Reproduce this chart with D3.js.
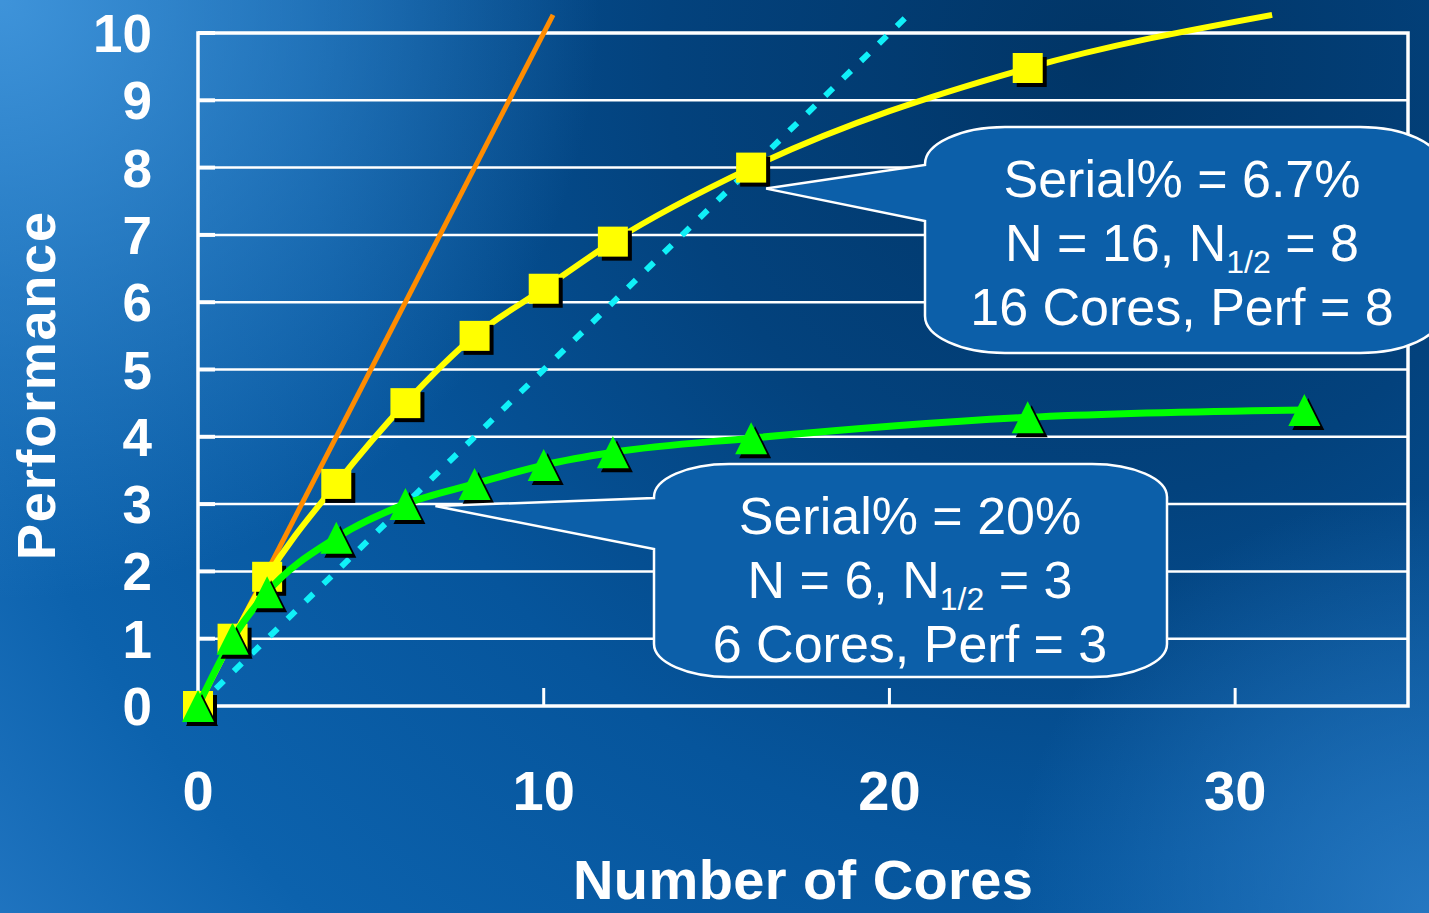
<!DOCTYPE html>
<html>
<head>
<meta charset="utf-8">
<script src="https://cdn.jsdelivr.net/npm/d3@7"></script>
<style>
  body { margin: 0; background: #0a4a8a; }
  svg { display: block; }
  text { font-family: "Liberation Sans", Arial, sans-serif; fill: #fff; }
</style>
</head>
<body>
<div id="chart"></div>
<script>
// chart data
const coreTicks = [0, 10, 20, 30];
const perfTicks = [0, 1, 2, 3, 4, 5, 6, 7, 8, 9, 10];

// ideal (perf = cores) and half-efficiency reference lines
const idealCores = [0, 10.27];
const idealPerf = [0, 10.27];
const halfCores = [0, 20.55];
const halfPerf = [0, 10.27];

// serial 6.7%
const s67Cores = [0, 1, 2, 4, 6, 8, 10, 12, 16, 24];
const s67Perf = [0, 1.0, 1.92, 3.3, 4.5, 5.5, 6.2, 6.9, 8.0, 9.48];
const s67TailCore = 31.07, s67TailPerf = 10.27;

// serial 20%
const s20Cores = [0, 1, 2, 4, 6, 8, 10, 12, 16, 24, 32];
const s20Perf = [0, 1.0, 1.69, 2.5, 3.0, 3.3, 3.58, 3.77, 3.98, 4.29, 4.4];

const W = 1429, H = 913;
const svg = d3.select("#chart").append("svg")
    .attr("width", W).attr("height", H);

//
// background gradients
//
const defs = svg.append("defs");
const bg = defs.append("radialGradient").attr("id", "bg")
    .attr("gradientUnits", "userSpaceOnUse")
    .attr("cx", 1100).attr("cy", 60).attr("r", 1450);
[[0, "#013566"], [0.3, "#03427d"], [0.55, "#06559c"], [0.8, "#0c62ad"], [1, "#2478c4"]]
    .forEach(s => bg.append("stop").attr("offset", s[0]).attr("stop-color", s[1]));

const hiTL = defs.append("radialGradient").attr("id", "hiTL")
    .attr("gradientUnits", "userSpaceOnUse")
    .attr("cx", 0).attr("cy", 0).attr("r", 600);
hiTL.append("stop").attr("offset", 0).attr("stop-color", "#4196dc").attr("stop-opacity", 0.95);
hiTL.append("stop").attr("offset", 1).attr("stop-color", "#4196dc").attr("stop-opacity", 0);

const hiBR = defs.append("radialGradient").attr("id", "hiBR")
    .attr("gradientUnits", "userSpaceOnUse")
    .attr("cx", W).attr("cy", H).attr("r", 420);
hiBR.append("stop").attr("offset", 0).attr("stop-color", "#2a7cc6").attr("stop-opacity", 0.85);
hiBR.append("stop").attr("offset", 1).attr("stop-color", "#2a7cc6").attr("stop-opacity", 0);

svg.append("rect").attr("width", W).attr("height", H).attr("fill", "url(#bg)");
svg.append("rect").attr("width", W).attr("height", H).attr("fill", "url(#hiTL)");
svg.append("rect").attr("width", W).attr("height", H).attr("fill", "url(#hiBR)");

//
// scales
//
const x = d3.scaleLinear().domain([0, 35]).range([198, 1408]);
const y = d3.scaleLinear().domain([0, 10]).range([706, 33]);

// grid lines
svg.append("g").selectAll("line").data(perfTicks.slice(1, -1)).join("line")
    .attr("x1", x(0)).attr("x2", x(35))
    .attr("y1", d => y(d)).attr("y2", d => y(d))
    .attr("stroke", "#fff").attr("stroke-width", 2.5);

// left ticks (inside)
svg.append("g").selectAll("line").data(perfTicks).join("line")
    .attr("x1", x(0)).attr("x2", x(0) + 17)
    .attr("y1", d => y(d)).attr("y2", d => y(d))
    .attr("stroke", "#fff").attr("stroke-width", 4);

// bottom ticks (inside)
svg.append("g").selectAll("line").data(coreTicks.slice(1)).join("line")
    .attr("x1", d => x(d)).attr("x2", d => x(d))
    .attr("y1", y(0)).attr("y2", y(0) - 18)
    .attr("stroke", "#fff").attr("stroke-width", 3);

// frame
svg.append("rect")
    .attr("x", x(0)).attr("y", y(10))
    .attr("width", x(35) - x(0)).attr("height", y(0) - y(10))
    .attr("fill", "none").attr("stroke", "#fff").attr("stroke-width", 3.5);

// tick labels
svg.append("g").selectAll("text").data(perfTicks).join("text")
    .attr("x", 152).attr("y", d => y(d) + 19)
    .attr("text-anchor", "end")
    .attr("font-size", 53).attr("font-weight", "bold")
    .text(d => d);

svg.append("g").selectAll("text").data(coreTicks).join("text")
    .attr("x", d => x(d)).attr("y", 810)
    .attr("text-anchor", "middle")
    .attr("font-size", 56).attr("font-weight", "bold")
    .text(d => d);

// axis titles
svg.append("text")
    .attr("x", 803).attr("y", 899)
    .attr("text-anchor", "middle")
    .attr("font-size", 56).attr("font-weight", "bold")
    .attr("textLength", 460).attr("lengthAdjust", "spacing")
    .text("Number of Cores");

svg.append("text")
    .attr("transform", "translate(55,386) rotate(-90)")
    .attr("text-anchor", "middle")
    .attr("font-size", 54).attr("font-weight", "bold")
    .attr("textLength", 348).attr("lengthAdjust", "spacing")
    .text("Performance");

//
// lines
//
const lineGen = d3.line().x(d => x(d[0])).y(d => y(d[1]));
const curveGen = d3.line().curve(d3.curveMonotoneX).x(d => x(d[0])).y(d => y(d[1]));

svg.append("path")
    .datum(d3.zip(idealCores, idealPerf))
    .attr("d", lineGen)
    .attr("fill", "none").attr("stroke", "#ff8c00").attr("stroke-width", 5);

svg.append("path")
    .datum(d3.zip(halfCores, halfPerf))
    .attr("d", lineGen)
    .attr("fill", "none").attr("stroke", "#10f0f8").attr("stroke-width", 6)
    .attr("stroke-dasharray", "11,14");

// yellow series
svg.append("path")
    .datum(d3.zip(s67Cores, s67Perf).concat([[s67TailCore, s67TailPerf]]))
    .attr("d", curveGen)
    .attr("fill", "none").attr("stroke", "#ffff00").attr("stroke-width", 6);

const sq = 30;
const yMarks = svg.append("g");
yMarks.selectAll("rect.sh").data(d3.zip(s67Cores, s67Perf)).join("rect")
    .attr("class", "sh")
    .attr("x", d => x(d[0]) - sq / 2 + 4).attr("y", d => y(d[1]) - sq / 2 + 4)
    .attr("width", sq).attr("height", sq).attr("fill", "#000");
yMarks.selectAll("rect.mk").data(d3.zip(s67Cores, s67Perf)).join("rect")
    .attr("class", "mk")
    .attr("x", d => x(d[0]) - sq / 2).attr("y", d => y(d[1]) - sq / 2)
    .attr("width", sq).attr("height", sq).attr("fill", "#ffff00");

// green series
svg.append("path")
    .datum(d3.zip(s20Cores, s20Perf))
    .attr("d", curveGen)
    .attr("fill", "none").attr("stroke", "#00ff00").attr("stroke-width", 7);

const tri = (cx, cy, dx, dy) =>
    `M${cx + dx},${cy - 16 + dy} L${cx + 16 + dx},${cy + 16 + dy} L${cx - 16 + dx},${cy + 16 + dy} Z`;
const gMarks = svg.append("g");
gMarks.selectAll("path.sh").data(d3.zip(s20Cores, s20Perf)).join("path")
    .attr("class", "sh")
    .attr("d", d => tri(x(d[0]), y(d[1]), 4, 4)).attr("fill", "#000");
gMarks.selectAll("path.mk").data(d3.zip(s20Cores, s20Perf)).join("path")
    .attr("class", "mk")
    .attr("d", d => tri(x(d[0]), y(d[1]), 0, 0)).attr("fill", "#00ff00");

//
// callouts
//
function calloutPath(b) {
    const { x0, y0, x1, y1, rx, ry, pTop, pBot, tip } = b;
    return `M${x0 + rx},${y0} H${x1 - rx} A${rx},${ry} 0 0 1 ${x1},${y0 + ry}` +
        ` V${y1 - ry} A${rx},${ry} 0 0 1 ${x1 - rx},${y1} H${x0 + rx}` +
        ` A${rx},${ry} 0 0 1 ${x0},${y1 - ry} V${pBot} L${tip[0]},${tip[1]}` +
        ` L${x0},${pTop} V${y0 + ry} A${rx},${ry} 0 0 1 ${x0 + rx},${y0} Z`;
}

const callouts = [
    {
        box: { x0: 925, y0: 127, x1: 1440, y1: 353, rx: 80, ry: 37, pTop: 165, pBot: 221,
               tip: [x(16) + 15, y(8) + 21] },
        cx: 1182, base: 197,
        lines: [["Serial% = 6.7%"], ["N = 16, N", "1/2", " = 8"], ["16 Cores, Perf = 8"]]
    },
    {
        box: { x0: 654, y0: 464, x1: 1167, y1: 677, rx: 75, ry: 33, pTop: 498, pBot: 549,
               tip: [x(6) + 30, y(3) + 2] },
        cx: 910, base: 534,
        lines: [["Serial% = 20%"], ["N = 6, N", "1/2", " = 3"], ["6 Cores, Perf = 3"]]
    }
];

callouts.forEach(c => {
    svg.append("path")
        .attr("d", calloutPath(c.box))
        .attr("fill", "#0c5fa9").attr("stroke", "#fff").attr("stroke-width", 2.5);
    c.lines.forEach((ln, i) => {
        const t = svg.append("text")
            .attr("x", c.cx).attr("y", c.base + i * 64)
            .attr("text-anchor", "middle")
            .attr("font-size", 52);
        if (ln.length === 1) {
            t.text(ln[0]);
        } else {
            t.append("tspan").text(ln[0]);
            t.append("tspan").attr("font-size", 32).attr("dy", 12).text(ln[1]);
            t.append("tspan").attr("dy", -12).text(ln[2]);
        }
    });
});
</script>
</body>
</html>
